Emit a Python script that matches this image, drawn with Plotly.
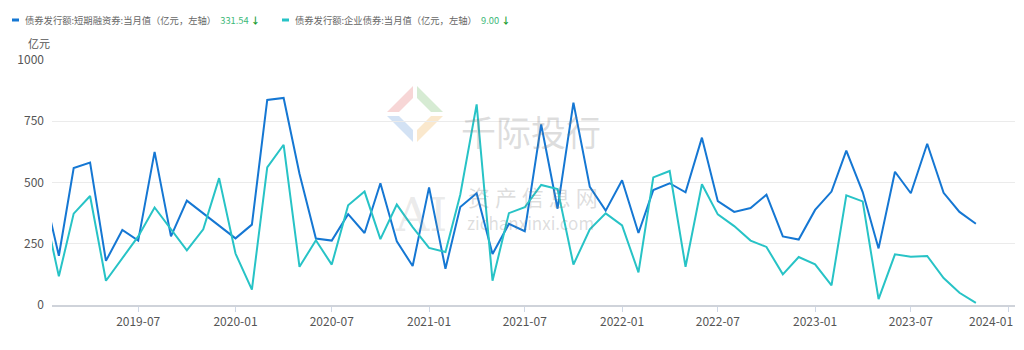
import plotly.graph_objects as go

# ---- data ----
months = [
    "2019-01", "2019-02", "2019-03", "2019-04", "2019-05", "2019-06", "2019-07", "2019-08", "2019-09", "2019-10", "2019-11", "2019-12",
    "2020-01", "2020-02", "2020-03", "2020-04", "2020-05", "2020-06", "2020-07", "2020-08", "2020-09", "2020-10", "2020-11", "2020-12",
    "2021-01", "2021-02", "2021-03", "2021-04", "2021-05", "2021-06", "2021-07", "2021-08", "2021-09", "2021-10", "2021-11", "2021-12",
    "2022-01", "2022-02", "2022-03", "2022-04", "2022-05", "2022-06", "2022-07", "2022-08", "2022-09", "2022-10", "2022-11", "2022-12",
    "2023-01", "2023-02", "2023-03", "2023-04", "2023-05", "2023-06", "2023-07", "2023-08", "2023-09", "2023-10", "2023-11",
]
short_term = [
    489, 201, 559, 581, 180, 306, 263, 625, 280, 426, 374, 323,
    272, 328, 837, 845, 536, 271, 263, 371, 294, 497, 260, 159,
    480, 148, 400, 456, 208, 331, 301, 737, 393, 826, 482, 385,
    509, 294, 469, 497, 460, 683, 424, 380, 396, 450, 280, 267,
    388, 463, 630, 461, 231, 544, 456, 658, 458, 380, 331.54,
]
corporate = [
    424, 117, 373, 445, 99, 190, 280, 398, 311, 223, 309, 518,
    210, 63, 562, 654, 156, 264, 165, 407, 463, 269, 410, 318,
    233, 216, 450, 819, 99, 375, 399, 490, 473, 165, 309, 374,
    325, 133, 521, 547, 156, 493, 370, 322, 263, 237, 125, 196,
    166, 80, 448, 423, 24, 207, 197, 200, 110, 50, 9.00,
]
series_names = ["债券发行额:短期融资券:当月值（亿元，左轴）", "债券发行额:企业债券:当月值（亿元，左轴）"]
y_ticks = [0, 250, 500, 750, 1000]
unit_label = "亿元"
last_tick = "2024-01-01"

dates = [m + "-01" for m in months]

W, H = 1024, 350
L, R, T, B = 52, 9, 60, 45
PW, PH = W - L - R, H - T - B

def px(x):
    return (x - L) / PW

def py(y):
    return 1 - (y - T) / PH

BLUE = "#1577d3"
CYAN = "#27c3c6"
FONT = "Noto Sans CJK SC, Noto Sans, sans-serif"

fig = go.Figure()
fig.add_trace(go.Scatter(x=dates, y=short_term, mode="lines", line=dict(color=BLUE, width=2),
                         name=series_names[0], showlegend=False))
fig.add_trace(go.Scatter(x=dates, y=corporate, mode="lines", line=dict(color=CYAN, width=2),
                         name=series_names[1], showlegend=False))

shapes = []
annotations = []

# watermark
wm_color = "rgba(120,120,120,0.25)"
annotations.append(dict(x=px(531), y=py(103), xref="paper", yref="paper", text="千际投行",
                        showarrow=False, font=dict(size=35, color=wm_color, family=FONT)))
annotations.append(dict(x=px(533), y=py(196), xref="paper", yref="paper", text="资 产 信 息 网",
                        showarrow=False, font=dict(size=22, color=wm_color, family=FONT)))
annotations.append(dict(x=px(530), y=py(237), xref="paper", yref="paper", text="zichanxinxi.com",
                        showarrow=False, font=dict(size=17, color=wm_color, family=FONT)))
annotations.append(dict(x=px(421), y=py(215), xref="paper", yref="paper", text="AI",
                        showarrow=False, font=dict(size=46, color="rgba(150,150,150,0.2)", family="DejaVu Serif")))
# logo diamond
cx, cy = 415, 114
def poly(pts, color):
    d = "M " + " L ".join(f"{px(a)},{py(b)}" for a, b in pts) + " Z"
    return dict(type="path", path=d, xref="paper", yref="paper", fillcolor=color, line=dict(width=0), layer="below")
shapes.append(poly([(cx - 28, cy - 2), (cx - 2, cy - 28), (cx - 2, cy - 16), (cx - 16, cy - 2)], "rgba(230,120,120,0.3)"))
shapes.append(poly([(cx + 2, cy - 28), (cx + 28, cy - 2), (cx + 16, cy - 2), (cx + 2, cy - 16)], "rgba(120,190,110,0.3)"))
shapes.append(poly([(cx - 28, cy + 2), (cx - 16, cy + 2), (cx - 2, cy + 16), (cx - 2, cy + 28)], "rgba(110,160,220,0.3)"))
shapes.append(poly([(cx + 28, cy + 2), (cx + 2, cy + 28), (cx + 2, cy + 16), (cx + 16, cy + 2)], "rgba(240,180,90,0.3)"))

# legend
legend_items = [
    (12, BLUE, series_names[0], short_term[-1]),
    (282, CYAN, series_names[1], corporate[-1]),
]
for x0, col, name, val in legend_items:
    shapes.append(dict(type="line", xref="paper", yref="paper", x0=px(x0), x1=px(x0 + 7),
                       y0=py(20), y1=py(20), line=dict(color=col, width=3)))
    annotations.append(dict(
        x=px(x0 + 11), y=py(20), xref="paper", yref="paper", xanchor="left", yanchor="middle",
        showarrow=False,
        text=f'{name}  <span style="color:#3cb878">{val:.2f}</span> <span style="color:#169b2e"><b>↓</b></span>',
        font=dict(size=9.3, color="#666666", family=FONT),
    ))

# y unit
annotations.append(dict(x=px(39), y=py(43), xref="paper", yref="paper", xanchor="center", yanchor="middle",
                        text=unit_label, showarrow=False, font=dict(size=11, color="#555555", family=FONT)))

# last x tick label kept inside the page (as in the reference)
annotations.append(dict(x=last_tick, xref="x", y=0, yref="paper", yanchor="top", yshift=-5, xshift=-17,
                        text=last_tick[:7], showarrow=False,
                        font=dict(size=12, color="#555555", family=FONT)))

fig.update_layout(
    width=W, height=H,
    margin=dict(l=L, r=R, t=T, b=B),
    paper_bgcolor="white", plot_bgcolor="white",
    shapes=shapes, annotations=annotations,
    xaxis=dict(
        type="date", range=["2019-01-19", "2024-01-14"],
        tick0="2019-07-01", dtick="M6", tickformat="%Y-%m",
        showgrid=False, showline=True, linecolor="#cfd3da", linewidth=1.5,
        ticks="outside", ticklen=5, tickcolor="#cfd8e6", tickwidth=1,
        tickfont=dict(size=12, color="#555555", family=FONT),
        zeroline=False, fixedrange=True,
    ),
    yaxis=dict(
        range=[0, 1000], tickvals=y_ticks, ticktext=[str(v) for v in y_ticks],
        showgrid=True, gridcolor="#ebebeb", gridwidth=1, zeroline=False,
        showline=False, ticks="", ticklabelstandoff=7,
        tickfont=dict(size=12, color="#555555", family=FONT),
        fixedrange=True,
    ),
    font=dict(family=FONT),
)

fig.write_html("out.html")
